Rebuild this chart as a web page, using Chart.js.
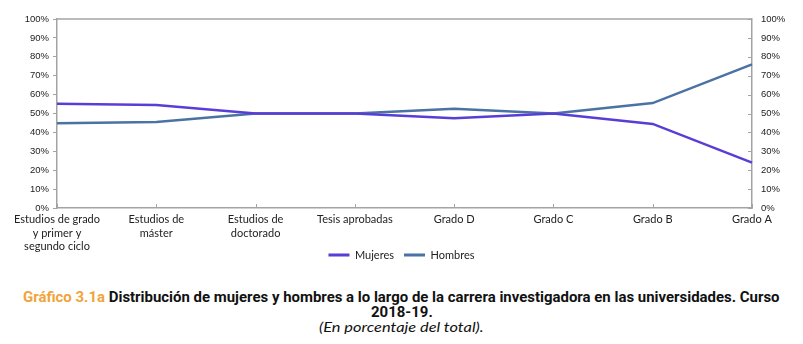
<!DOCTYPE html>
<html lang="es">
<head>
<meta charset="utf-8">
<script src="https://cdn.jsdelivr.net/npm/chart.js@4.4.1/dist/chart.umd.min.js"></script>
<style>
  html, body { margin: 0; padding: 0; background: #ffffff; }
  body { width: 803px; height: 344px; overflow: hidden; }
  #wrap { position: relative; width: 803px; height: 285px; }
  #caption { margin-top: 5px; text-align: center; color: #111; }
  #caption .row { display: block; white-space: nowrap; text-align: center; }
  #caption .row span.fit { display: inline-block; transform-origin: 50% 50%; }
  #caption .t { font-family: Roboto, "Liberation Sans", sans-serif; font-weight: bold; font-size: 14px; line-height: 14.5px; }
  #caption .num { color: #f0a43a; }
  #caption .s { font-family: Lato, "Liberation Sans", sans-serif; font-style: italic; font-weight: 400; font-size: 14px; line-height: 15px; }
</style>
</head>
<body>
<div id="wrap"><canvas id="chart" width="803" height="285"></canvas></div>
<div id="caption">
  <div class="row t"><span class="fit" data-w="757"><span class="num">Gráfico 3.1a</span> Distribución de mujeres y hombres a lo largo de la carrera investigadora en las universidades. Curso</span></div>
  <div class="row t"><span class="fit" data-same="1">2018-19.</span></div>
  <div class="row s"><span class="fit" data-w="165">(En porcentaje del total).</span></div>
</div>
<script>
// Career stages (x axis)
const categories = [
  ["Estudios de grado", "y primer y", "segundo ciclo"],
  ["Estudios de", "máster"],
  ["Estudios de", "doctorado"],
  "Tesis aprobadas",
  "Grado D",
  "Grado C",
  "Grado B",
  "Grado A"
];

// Share of each group at every stage (%)
const mujeres = [55.2, 54.5, 50.0, 50.0, 47.5, 50.0, 44.5, 24.0];
const hombres = [44.8, 45.5, 50.0, 50.0, 52.5, 50.0, 55.5, 76.0];

// Y axis tick values
const yTicks = [0, 10, 20, 30, 40, 50, 60, 70, 80, 90, 100];

const colorMujeres = "#5a3dd6";
const colorHombres = "#4a73a4";
const axisColor = "#a3a3a3";

// Condense the caption lines to their set widths
(function fitCaption() {
  let lastScale = 1;
  document.querySelectorAll("#caption .fit").forEach(el => {
    let s = lastScale;
    if (el.dataset.w) {
      s = parseFloat(el.dataset.w) / el.offsetWidth;
      lastScale = s;
    }
    el.style.transform = "scaleX(" + s.toFixed(4) + ")";
  });
})();

// Frame around the plot, inward tick marks, legend placement
const framePlugin = {
  id: "frame",
  afterLayout(chart) {
    const lg = chart.legend;
    if (!lg) return;
    const center = lg.top + lg.options.labels.padding + (lg._itemHeight || 13) / 2;
    const d = center - 256;
    lg.top -= d;
    lg.bottom -= d;
  },
  afterDraw(chart) {
    const { ctx, chartArea: a, scales } = chart;
    ctx.save();
    ctx.strokeStyle = axisColor;
    ctx.lineWidth = 1.5;
    ctx.beginPath();
    ctx.moveTo(a.left, a.top); ctx.lineTo(a.right, a.top);
    ctx.stroke();
    ctx.lineWidth = 1;
    // category ticks pointing up into the plot
    categories.forEach((c, i) => {
      const x = Math.round(scales.x.getPixelForValue(i)) + 0.5;
      ctx.beginPath();
      ctx.moveTo(x, a.bottom); ctx.lineTo(x, a.bottom - 4);
      ctx.stroke();
    });
    // right axis ticks pointing into the plot
    yTicks.forEach(v => {
      const y = Math.round(scales.y2.getPixelForValue(v)) + 0.5;
      ctx.beginPath();
      ctx.moveTo(a.right, y); ctx.lineTo(a.right - 4, y);
      ctx.stroke();
    });
    ctx.restore();
  }
};

const tickFont = { family: "'Liberation Sans', Arial, sans-serif", size: 9.5 };

new Chart(document.getElementById("chart"), {
  type: "line",
  data: {
    labels: categories,
    datasets: [
      { label: "Mujeres", data: mujeres, borderColor: colorMujeres, backgroundColor: colorMujeres,
        borderWidth: 2.5, pointRadius: 0, tension: 0, yAxisID: "y" },
      { label: "Hombres", data: hombres, borderColor: colorHombres, backgroundColor: colorHombres,
        borderWidth: 2.5, pointRadius: 0, tension: 0, yAxisID: "y" }
    ]
  },
  options: {
    responsive: false,
    animation: false,
    layout: { padding: { top: 19, bottom: 0, left: 0, right: 0 } },
    plugins: {
      legend: {
        position: "bottom",
        labels: {
          boxWidth: 21,
          boxHeight: 3,
          padding: 10,
          color: "#222",
          font: { family: "Lato, 'Liberation Sans', sans-serif", size: 11 },
          generateLabels(chart) {
            return chart.data.datasets.map((ds, i) => ({
              text: ds.label,
              fillStyle: ds.borderColor,
              strokeStyle: ds.borderColor,
              lineWidth: 0,
              fontColor: "#222",
              datasetIndex: i
            }));
          }
        }
      },
      tooltip: { enabled: false }
    },
    scales: {
      x: {
        offset: false,
        grid: { display: true, drawOnChartArea: false, drawTicks: false, color: axisColor },
        border: { display: true, color: axisColor, width: 1.5 },
        ticks: {
          color: "#222",
          padding: 5,
          maxRotation: 0,
          autoSkip: false,
          font: { family: "Lato, 'Liberation Sans', sans-serif", size: 11, lineHeight: 1.22 }
        },
        afterFit(s) { s.height = 46; }
      },
      y: {
        position: "left",
        min: 0, max: 100,
        afterBuildTicks(s) { s.ticks = yTicks.map(v => ({ value: v })); },
        grid: { display: true, drawOnChartArea: false, drawTicks: true, tickLength: 4, color: axisColor },
        border: { display: true, color: axisColor, width: 1.5 },
        ticks: { color: "#222", padding: 4, font: tickFont, callback: v => v + "%" },
        afterFit(s) { s.width = 57; }
      },
      y2: {
        position: "right",
        min: 0, max: 100,
        afterBuildTicks(s) { s.ticks = yTicks.map(v => ({ value: v })); },
        grid: { display: false, drawOnChartArea: false, drawTicks: false },
        border: { display: true, color: axisColor, width: 1.5 },
        ticks: { color: "#222", padding: 9, font: tickFont, callback: v => v + "%" },
        afterFit(s) { s.width = 51; }
      }
    }
  },
  plugins: [framePlugin]
});
</script>
</body>
</html>
